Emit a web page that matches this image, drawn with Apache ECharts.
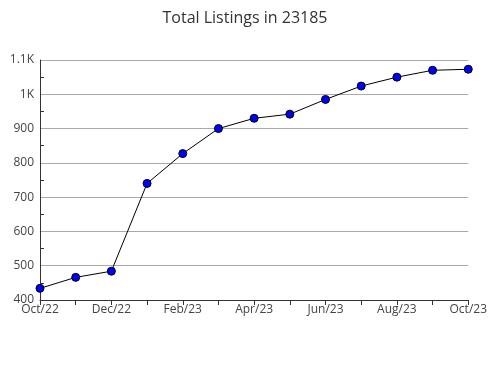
<!DOCTYPE html>
<html><head><meta charset="utf-8">
<script src="https://cdn.jsdelivr.net/npm/echarts@6/dist/echarts.min.js"></script>
<style>html,body{margin:0;padding:0;background:#fff}#c{width:490px;height:380px}</style>
</head><body><div id="c"></div>
<script>
const categories = ['Oct/22','Nov/22','Dec/22','Jan/23','Feb/23','Mar/23','Apr/23','May/23','Jun/23','Jul/23','Aug/23','Sep/23','Oct/23'];
const listings = [434, 466, 484, 740, 827, 900, 930, 942, 985, 1024, 1050, 1070, 1073];
const yMin = 400, yMax = 1100, yStep = 100;

const chart = echarts.init(document.getElementById('c'), null, {renderer:'canvas'});
chart.setOption({
  animation: false,
  title: {text: 'Total Listings in 23185', left: 'center', top: 5,
    textStyle: {fontFamily: 'Open Sans', fontSize: 16, fontWeight: 'normal', color: '#333'}},
  grid: {left: 40, right: 19, top: 60, bottom: 80},
  xAxis: {type: 'category', data: categories, boundaryGap: false,
    axisLine: {lineStyle: {color: '#333', width: 1}},
    axisTick: {show: true, interval: 0, length: 5, lineStyle: {color: '#333'}},
    axisLabel: {interval: 1, color: '#444', fontFamily: 'Open Sans', fontSize: 12, margin: 4},
    splitLine: {show: false}},
  yAxis: {type: 'value', min: yMin, max: yMax, interval: yStep,
    axisLine: {show: true, lineStyle: {color: '#333', width: 1}},
    axisTick: {show: false, inside: true},
    minorTick: {show: true, splitNumber: 2, length: 4, lineStyle: {color: '#333'}},
    axisLabel: {color: '#444', fontFamily: 'Open Sans', fontSize: 12, margin: 6,
      formatter: v => v >= 1000 ? (v/1000) + 'K' : String(v)},
    splitLine: {show: true, lineStyle: {color: '#aaa', width: 1}}},
  series: [{type: 'line', data: listings, symbol: 'circle', symbolSize: 8,
    lineStyle: {color: '#000', width: 1},
    itemStyle: {color: '#0000ff', borderColor: '#000', borderWidth: 1}}]
});
</script></body></html>
